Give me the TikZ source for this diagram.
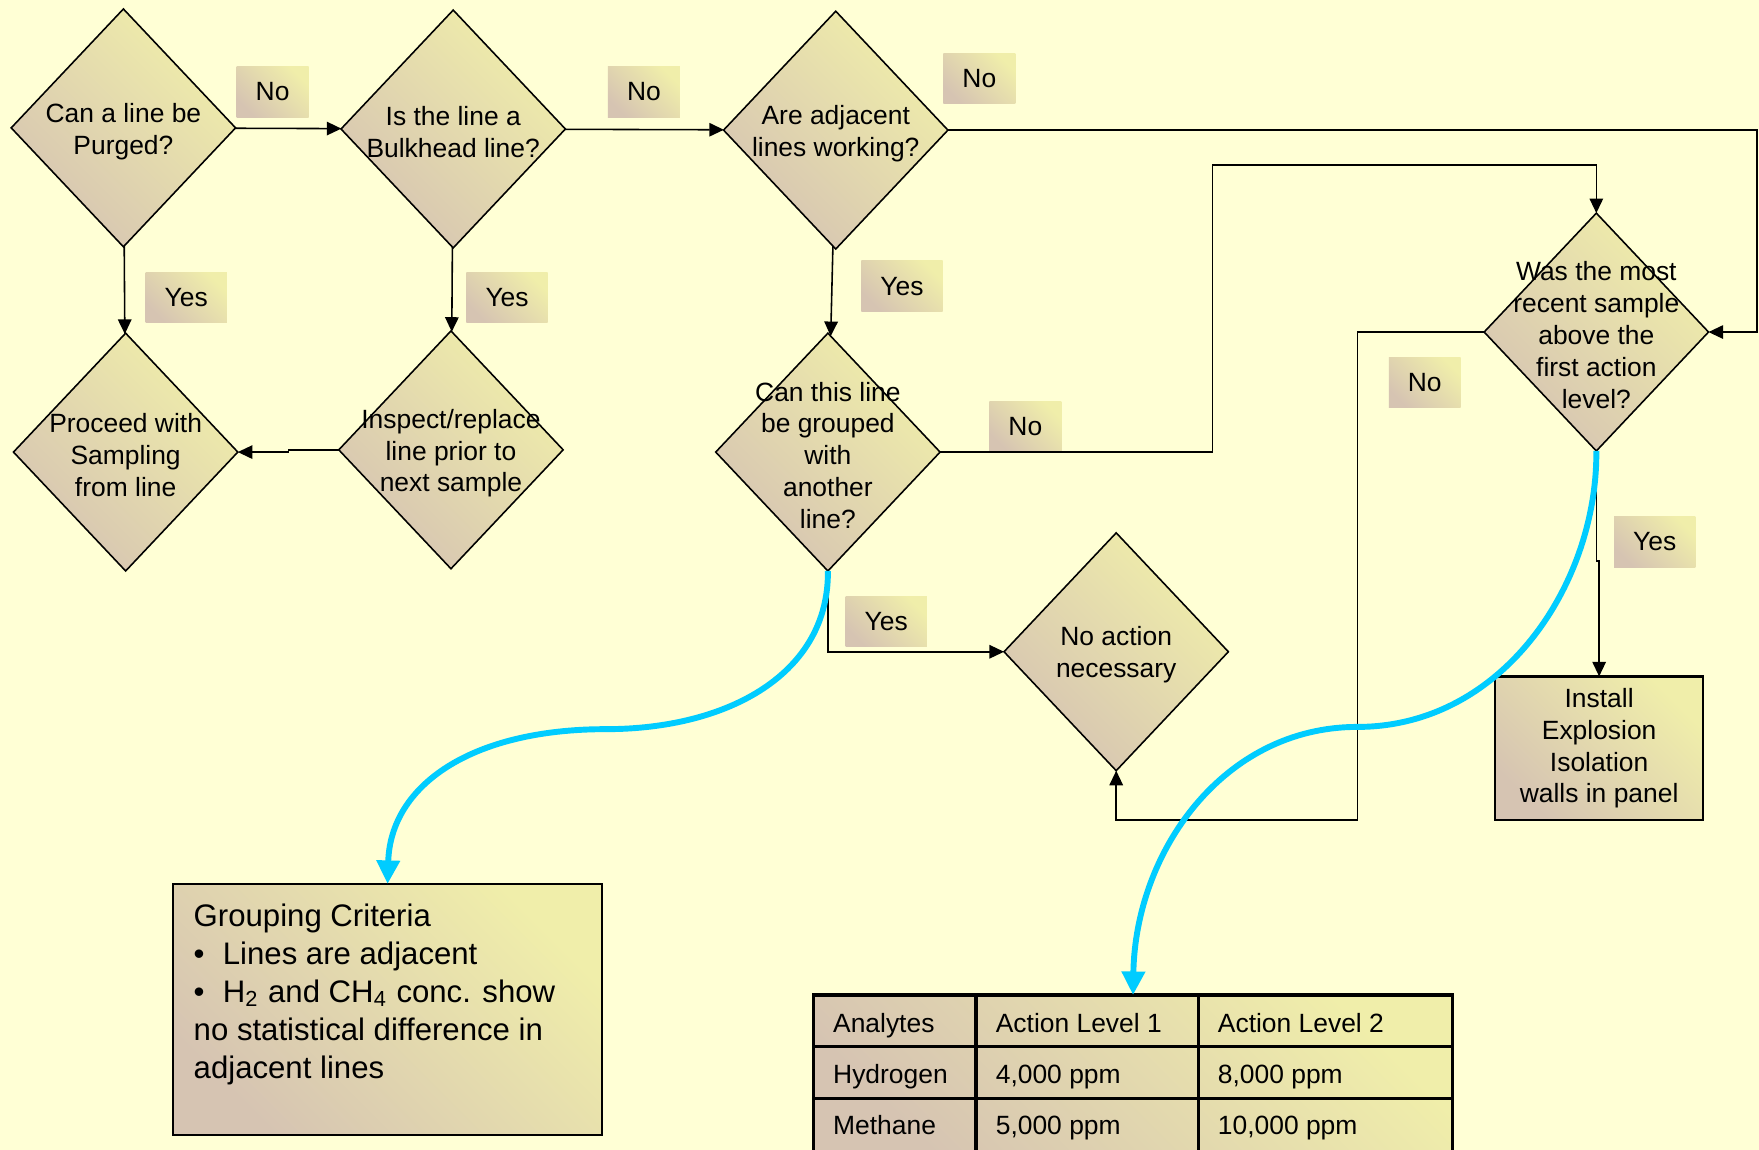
\documentclass[tikz,border=0pt]{standalone}
\usepackage{fontspec}
\setmainfont{Liberation Sans}
\usetikzlibrary{shapes.geometric,arrows.meta}

\definecolor{paper}{RGB}{255,255,213}
\definecolor{sand}{RGB}{214,196,178}
\definecolor{straw}{RGB}{240,238,170}
\definecolor{sky}{RGB}{0,204,255}

\newcommand{\flowfont}{\fontsize{6.7}{8.1}\selectfont}
\newcommand{\notefont}{\fontsize{7.9}{9.65}\selectfont}
\newcommand{\critem}{\makebox[2.6mm][l]{\textbullet}}

\begin{document}
\begin{tikzpicture}[x=0.1mm,y=-0.1mm,>={Triangle[length=1.3mm,width=1.2mm]},
  line width=0.4pt,font=\flowfont,
  tint/.style={top color=straw,bottom color=sand,shading angle=-45},
  decision/.style={diamond,draw,tint,minimum width=20mm,minimum height=21.2mm,inner sep=0pt,outer sep=0pt},
  qtext/.style={align=center,inner sep=0pt,yshift=-0.3mm},
  answer/.style={rectangle,tint,inner xsep=1.7mm,minimum height=4.5mm},
  action/.style={rectangle,draw,tint,line width=0.55pt,outer sep=0pt},
  cell/.style={anchor=base west,inner sep=0pt},
  cue/.style={draw=sky,line width=1.5pt,-{Triangle[length=2.1mm,width=2mm]}}]

\useasboundingbox (0,0) rectangle (1568,1025);
\fill[paper] (0,0) rectangle (1568,1025);
\clip (0,0) rectangle (1568,1025);

% decisions
\node[decision,label={[qtext]center:Can a line be\\Purged?}] (purge) at (110,114) {};
\node[decision,label={[qtext]center:Is the line a\\Bulkhead line?}] (bulkhead) at (404,115) {};
\node[decision,label={[qtext]center:Are adjacent\\lines working?}] (adjacent) at (745,116) {};
\node[decision,label={[qtext]center:Proceed with\\Sampling\\from line}] (proceed) at (112,403) {};
\node[decision,label={[qtext]center:Inspect/replace\\line prior to\\next sample}] (inspect) at (402,401) {};
\node[decision,label={[qtext]center:Can this line\\be grouped\\with\\another\\line?}] (group) at (738,403) {};
\node[decision,label={[qtext]center:No action\\necessary}] (noaction) at (995,581) {};
\node[decision,label={[qtext]center:Was the most\\recent sample\\above the\\first action\\level?}] (recent) at (1423,296) {};

\node[action,minimum width=18.5mm,minimum height=12.8mm,align=center,inner sep=0pt] (install) at (1425.5,667) {Install\\Explosion\\Isolation\\walls in panel};

% answers
\node[answer] (no1) at (243,82) {No};
\node[answer] (no2) at (574,82) {No};
\node[answer] (no3) at (873,70) {No};
\node[answer] (no4) at (914,380) {No};
\node[answer] (no5) at (1270,341) {No};
\node[answer] (yes1) at (166,265) {Yes};
\node[answer] (yes2) at (452,265) {Yes};
\node[answer] (yes3) at (804,255) {Yes};
\node[answer] (yes4) at (1475,483) {Yes};
\node[answer] (yes5) at (790,554) {Yes};

% grouping note
\node[action,minimum width=38.3mm,minimum height=22.4mm] (criteria) at (345.5,900) {};
\node[anchor=north west,align=left,inner sep=0pt,font=\notefont] (criteria text) at (172,805)
  {Grouping Criteria\\\critem Lines are adjacent\\\critem H\textsubscript{2} and CH\textsubscript{4} conc. show\\no statistical difference in\\adjacent lines};

% action levels
\node[action,line width=0.8pt,minimum width=57mm,minimum height=14mm] (levels) at (1010,957) {};
\draw[line width=0.8pt] (870,887) -- (870,1027) (1068,887) -- (1068,1027)
  (725,933) -- (1295,933) (725,979) -- (1295,979);
\foreach \row/\y/\ana/\one/\two in {1/920/Analytes/Action Level 1/Action Level 2,
    2/966/Hydrogen/{4,000 ppm}/{8,000 ppm},3/1011/Methane/{5,000 ppm}/{10,000 ppm}}{
  \node[cell] (ana\row) at (742,\y) {\ana};
  \node[cell] (one\row) at (887,\y) {\one};
  \node[cell] (two\row) at (1085,\y) {\two};
}

% flow
\path[->]
(purge) edge (bulkhead)
(bulkhead) edge (adjacent)
(purge) edge (proceed)
(bulkhead) edge (inspect)
(adjacent) edge (group);
\draw[->] (inspect.west) -- ++(-45,0) |- (proceed.east);
\draw[->] (adjacent.east) -| ([xshift=4.3mm]recent.east) -- (recent.east);
\draw[->] (group.east) -| (1081,147) -| (recent.north);
\draw[->] (recent.west) -| (1210,731) -| (noaction.south);
\draw[->] (group.south) |- (noaction.west);
\draw[->] (recent.south) -- ++(0,98) -| (install.north);

% pointers
\draw[cue] (group.south) .. controls (739,600) and (650,650) .. (540,650)
  .. controls (420,650) and (348,700) .. (criteria.north);
\draw[cue] (recent.south) .. controls (1424,520) and (1340,648) .. (1210,648)
  .. controls (1090,648) and (1012,760) .. (levels.north);
\end{tikzpicture}
\end{document}
